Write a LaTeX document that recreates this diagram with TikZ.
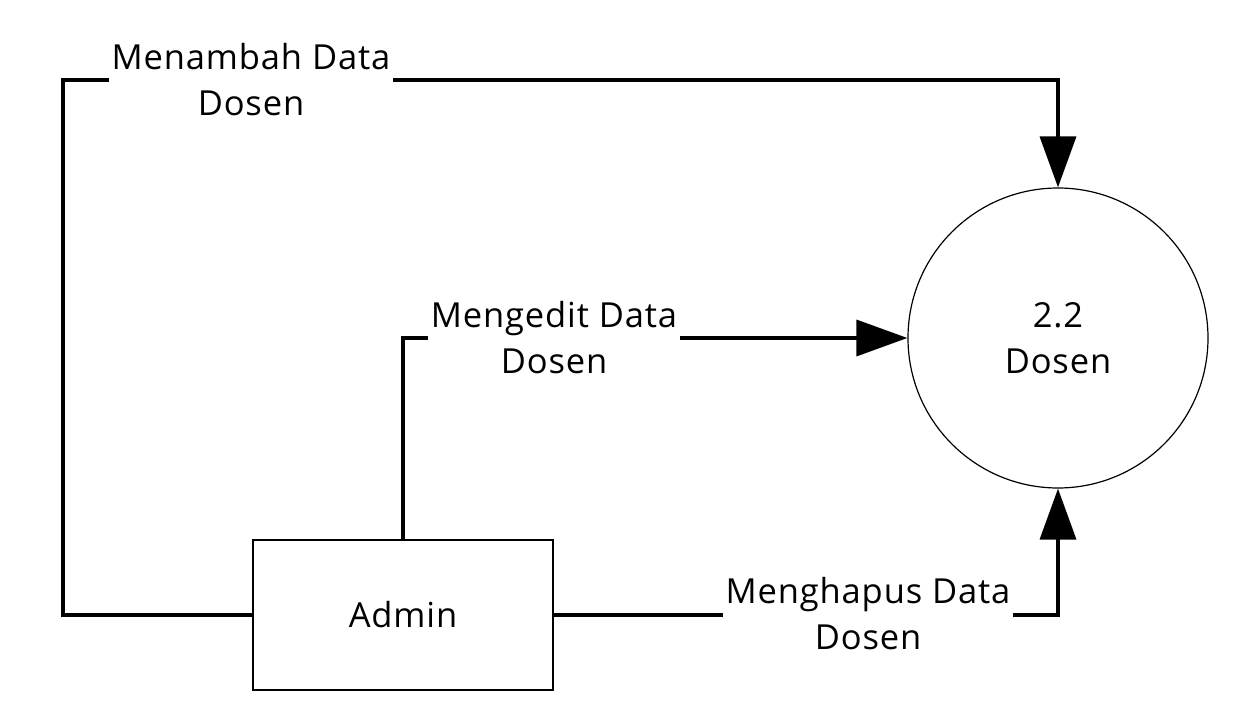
\documentclass[tikz,border=0pt]{standalone}
\usepackage{fontspec}
\setmainfont{Open Sans}[LetterSpace=2.5]
\usetikzlibrary{arrows.meta}
\begin{document}
\begin{tikzpicture}[x=1pt,y=-1pt,
  flow/.style={line width=3.5pt,-{Triangle[length=51pt,width=36pt]}},
  lbl/.style={fill=white,align=center,inner sep=3pt,font=\fontsize{34.5}{46}\selectfont},
  box/.style={draw,line width=1.2pt,minimum width=300pt,minimum height=150pt,inner sep=0pt,font=\fontsize{34.5}{46}\selectfont},
  proc/.style={draw,circle,line width=1.2pt,minimum size=300pt,inner sep=0pt,align=center,font=\fontsize{34.5}{46}\selectfont}]
\useasboundingbox (0,0) rectangle (1251,725);
\node[box] (admin) at (403,615) {Admin};
\node[proc] (p) at (1058,338) {2.2\\Dosen};
\coordinate (c1) at (63,615);
\coordinate (c2) at (63,80);
\coordinate (c3) at (1058,80);
\coordinate (e1) at (403,338);
\coordinate (h1) at (1058,615);
\draw[flow] (admin.west) -- (c1) -- (c2) -- (c3) -- (p.north);
\draw[flow] (admin.north) -- (e1) -- (p.west);
\draw[flow] (admin.east) -- (h1) -- (p.south);
\node[lbl] (l1) at (251,80) {Menambah Data\\Dosen};
\node[lbl] (l2) at (554,338) {Mengedit Data\\Dosen};
\node[lbl] (l3) at (868,614) {Menghapus Data\\Dosen};
\end{tikzpicture}
\end{document}
